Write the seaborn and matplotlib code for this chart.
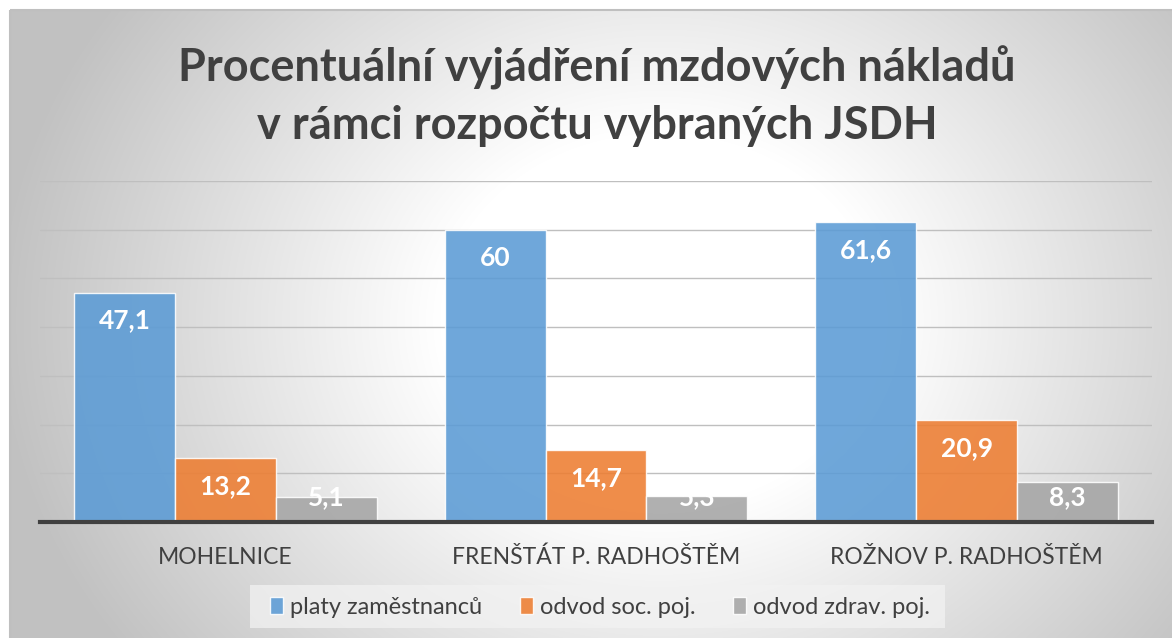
import numpy as np
import pandas as pd
import matplotlib
matplotlib.use("Agg")
import matplotlib.pyplot as plt
from matplotlib.patches import Rectangle
import seaborn as sns

categories = ["MOHELNICE", "FRENŠTÁT P. RADHOŠTĚM", "ROŽNOV P. RADHOŠTĚM"]
series_names = ["platy zaměstnanců", "odvod soc. poj.", "odvod zdrav. poj."]
platy = [47.1, 60.0, 61.6]
soc = [13.2, 14.7, 20.9]
zdrav = [5.1, 5.3, 8.3]
labels_platy = ["47,1", "60", "61,6"]
labels_soc = ["13,2", "14,7", "20,9"]
labels_zdrav = ["5,1", "5,3", "8,3"]
title = "Procentuální vyjádření mzdových nákladů\nv rámci rozpočtu vybraných JSDH"

colors = ["#5B9BD5", "#ED7D31", "#A5A5A5"]

sns.set_theme(style="white")
plt.rcParams["font.family"] = ["Lato", "DejaVu Sans"]

W, H = 1172, 638
fig = plt.figure(figsize=(W / 100, H / 100), dpi=100)
fig.patch.set_facecolor("white")

# background radial gradient
bg = fig.add_axes([0, 0, 1, 1], zorder=-10)
yy, xx = np.mgrid[0:H, 0:W]
cx, cy = 660, 320
d = np.sqrt(((xx - cx) / 1.0) ** 2 + ((yy - cy) / 0.85) ** 2)
t = np.clip((d - 220) / 440, 0, 1)
val = 1.0 - t * 0.24
img = np.dstack([val, val, val])
img[:10, :, :] = 1.0
img[:, :10, :] = 1.0
bg.imshow(img, extent=[0, W, H, 0], aspect="auto", interpolation="bilinear")
bg.add_patch(Rectangle((10, 10), W - 8, H - 8, fill=False, edgecolor="#BFBFBF", lw=1.5))
# legend background box
bg.add_patch(Rectangle((250, 585), 695, 43, facecolor="#F2F2F2", edgecolor="none", alpha=0.75))
bg.set_xlim(0, W)
bg.set_ylim(H, 0)
bg.axis("off")

df = pd.DataFrame({
    "kategorie": categories * 3,
    "serie": [series_names[0]] * 3 + [series_names[1]] * 3 + [series_names[2]] * 3,
    "hodnota": platy + soc + zdrav,
})
lab = labels_platy + labels_soc + labels_zdrav

ax = fig.add_axes([40 / W, 1 - 522 / H, 1112 / W, (522 - 181) / H])
ax.patch.set_alpha(0)
sns.barplot(data=df, x="kategorie", y="hodnota", hue="serie", palette=colors,
            saturation=1, width=0.816, alpha=0.88, edgecolor="white", linewidth=1.0,
            ax=ax, legend=True, zorder=3)
ax.set_ylim(0, 70)
ax.set_xlim(-0.5, 2.5)
ax.set_yticks(np.arange(0, 71, 10))
ax.set_yticklabels([])
ax.yaxis.grid(True, color="#BFBFBF", lw=1.0, zorder=0)
ax.set_axisbelow(True)
for s in ["top", "right", "left"]:
    ax.spines[s].set_visible(False)
ax.spines["bottom"].set_color("#404040")
ax.spines["bottom"].set_linewidth(3)
ax.spines["bottom"].set_zorder(5)
ax.tick_params(axis="y", length=0)
ax.tick_params(axis="x", length=0, pad=18, labelsize=16.5, labelcolor="#404040")
ax.set_xlabel("")
ax.set_ylabel("")

px_per_unit = (522 - 181) / 70.0
bars = [p for c in ax.containers for p in c]
for p, txt in zip(bars, lab):
    h = p.get_height()
    hpx = h * px_per_unit
    off = -min(28, max(0, hpx - 25))
    ax.annotate(txt, (p.get_x() + p.get_width() / 2, h), xytext=(0, off),
                textcoords="offset pixels", ha="center", va="center",
                color="white", fontsize=19, fontweight="bold", zorder=6)

handles, labels = ax.get_legend_handles_labels()
ax.legend(handles, labels, loc="center", bbox_to_anchor=(600 / W, 1 - 607 / H),
          bbox_transform=fig.transFigure, ncol=3, frameon=False,
          fontsize=17, labelcolor="#404040", handlelength=0.55, handleheight=0.7,
          handletextpad=0.3, columnspacing=1.6)

fig.text(597 / W, 1 - 96 / H, title, ha="center", va="center", fontsize=32.5,
         fontweight="bold", color="#404040", linespacing=1.45)

fig.savefig("out.png", dpi=100)
